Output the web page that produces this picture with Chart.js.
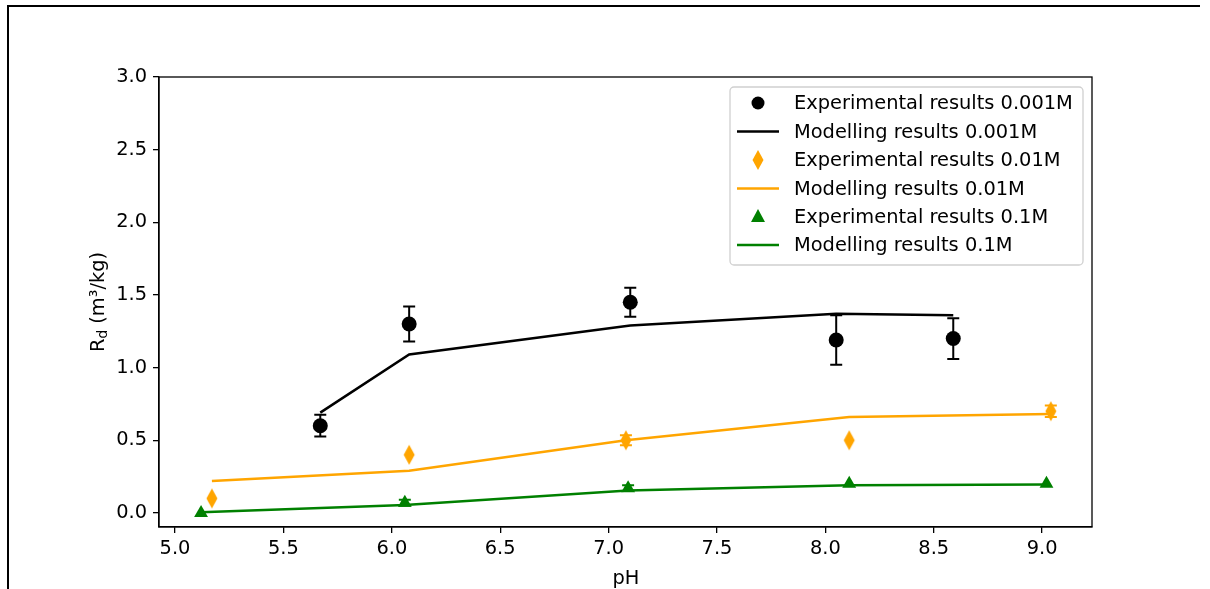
<!DOCTYPE html>
<html>
<head>
<meta charset="utf-8">
<script src="https://cdn.jsdelivr.net/npm/chart.js@4.4.1/dist/chart.umd.min.js"></script>
<style>
  html, body { margin: 0; padding: 0; background: #fff; }
  canvas { display: block; }
</style>
</head>
<body>
<canvas id="c" width="1210" height="589"></canvas>
<script>
// ---- data ----
const xTicks = [5.0, 5.5, 6.0, 6.5, 7.0, 7.5, 8.0, 8.5, 9.0];
const yTicks = [0.0, 0.5, 1.0, 1.5, 2.0, 2.5, 3.0];

const xExp001 = [5.67, 6.08, 7.10, 8.05, 8.59];
const yExp001 = [0.60, 1.30, 1.45, 1.19, 1.20];
const eExp001 = [0.075, 0.12, 0.10, 0.17, 0.14];
const xMod001 = [5.67, 6.08, 7.10, 8.05, 8.59];
const yMod001 = [0.69, 1.09, 1.29, 1.37, 1.36];

const xExp01 = [5.17, 6.08, 7.08, 8.11, 9.04];
const yExp01 = [0.10, 0.40, 0.50, 0.50, 0.70];
const eExp01 = [0.0, 0.0, 0.035, 0.0, 0.04];
const xMod01 = [5.17, 6.08, 7.08, 8.11, 9.04];
const yMod01 = [0.22, 0.29, 0.50, 0.66, 0.68];

const xExp1 = [5.12, 6.06, 7.09, 8.11, 9.02];
const yExp1 = [0.00, 0.07, 0.17, 0.20, 0.20];
const eExp1 = [0.0, 0.02, 0.02, 0.0, 0.0];
const xMod1 = [5.12, 6.06, 7.09, 8.11, 9.02];
const yMod1 = [0.005, 0.055, 0.155, 0.19, 0.195];

const labels = [
  'Experimental results 0.001M', 'Modelling results 0.001M',
  'Experimental results 0.01M', 'Modelling results 0.01M',
  'Experimental results 0.1M', 'Modelling results 0.1M'
];

const BLACK = '#000000', ORANGE = '#ffa500', GREEN = '#008000';
const FONT = '"DejaVu Sans", sans-serif';
const FS = 19.4;

function pts(xs, ys) { return xs.map((x, i) => ({ x: x, y: ys[i] })); }

// thin diamond marker
function thinDiamond(color) {
  const c = document.createElement('canvas');
  c.width = 14; c.height = 22;
  const g = c.getContext('2d');
  g.fillStyle = color;
  g.beginPath();
  g.moveTo(7, 1); g.lineTo(12.5, 11); g.lineTo(7, 21); g.lineTo(1.5, 11);
  g.closePath(); g.fill();
  return c;
}
const diamondImg = thinDiamond(ORANGE);

const errSets = [
  { xs: xExp001, ys: yExp001, es: eExp001, color: BLACK },
  { xs: xExp01, ys: yExp01, es: eExp01, color: ORANGE },
  { xs: xExp1, ys: yExp1, es: eExp1, color: GREEN }
];

const framePlugin = {
  id: 'frame',
  beforeDraw(chart) {
    const g = chart.ctx;
    g.save();
    g.fillStyle = '#fff';
    g.fillRect(0, 0, chart.width, chart.height);
    g.fillStyle = '#000';
    g.fillRect(7, 5, 1193, 2);
    g.fillRect(7, 5, 2, 584);
    g.restore();
  }
};

const errorPlugin = {
  id: 'errbars',
  beforeDatasetsDraw(chart) {
    const g = chart.ctx, xs = chart.scales.x, ys = chart.scales.y;
    g.save();
    g.lineWidth = 2;
    errSets.forEach(s => {
      g.strokeStyle = s.color;
      s.xs.forEach((xv, i) => {
        if (!s.es[i]) return;
        const px = xs.getPixelForValue(xv);
        const top = ys.getPixelForValue(s.ys[i] + s.es[i]);
        const bot = ys.getPixelForValue(s.ys[i] - s.es[i]);
        g.beginPath();
        g.moveTo(px, top); g.lineTo(px, bot);
        g.moveTo(px - 6, top); g.lineTo(px + 6, top);
        g.moveTo(px - 6, bot); g.lineTo(px + 6, bot);
        g.stroke();
      });
    });
    g.restore();
  },
  afterDraw(chart) {
    const g = chart.ctx, a = chart.chartArea;
    g.save();
    // axes box
    g.strokeStyle = '#000';
    g.lineWidth = 1.3;
    g.strokeRect(a.left, a.top, a.right - a.left, a.bottom - a.top);

    // x label
    g.fillStyle = '#000';
    g.font = FS + 'px ' + FONT;
    g.textAlign = 'center';
    g.textBaseline = 'alphabetic';
    g.fillText('pH', 626, 584);

    // y label with subscript
    g.save();
    g.translate(104, 302);
    g.rotate(-Math.PI / 2);
    const big = FS + 'px ' + FONT, small = (FS * 0.7) + 'px ' + FONT;
    g.font = big; const wR = g.measureText('R').width;
    g.font = small; const wd = g.measureText('d').width;
    g.font = big; const wRest = g.measureText(' (m³/kg)').width;
    let x0 = -(wR + wd + wRest) / 2;
    g.textAlign = 'left';
    g.font = big; g.fillText('R', x0, 0); x0 += wR;
    g.font = small; g.fillText('d', x0, 3); x0 += wd;
    g.font = big; g.fillText(' (m³/kg)', x0, 0);
    g.restore();

    // legend
    const lx = 730, ly = 87, lw = 353, lh = 178, r = 4;
    g.beginPath();
    g.moveTo(lx + r, ly);
    g.arcTo(lx + lw, ly, lx + lw, ly + lh, r);
    g.arcTo(lx + lw, ly + lh, lx, ly + lh, r);
    g.arcTo(lx, ly + lh, lx, ly, r);
    g.arcTo(lx, ly, lx + lw, ly, r);
    g.closePath();
    g.fillStyle = 'rgba(255,255,255,0.85)';
    g.fill();
    g.strokeStyle = '#d0d0d0';
    g.lineWidth = 1.3;
    g.stroke();

    const rowsY = [103, 131.5, 160, 188.5, 217, 245];
    const kinds = ['circle', 'line', 'diamond', 'line', 'triangle', 'line'];
    const cols = [BLACK, BLACK, ORANGE, ORANGE, GREEN, GREEN];
    g.font = FS + 'px ' + FONT;
    g.textAlign = 'left';
    g.textBaseline = 'middle';
    rowsY.forEach((yy, i) => {
      const c = cols[i];
      g.fillStyle = c; g.strokeStyle = c;
      if (kinds[i] === 'line') {
        g.lineWidth = 2.5;
        g.beginPath(); g.moveTo(737, yy); g.lineTo(779, yy); g.stroke();
      } else if (kinds[i] === 'circle') {
        g.beginPath(); g.arc(758, yy, 6.5, 0, Math.PI * 2); g.fill();
      } else if (kinds[i] === 'diamond') {
        g.drawImage(diamondImg, 758 - 7, yy - 11);
      } else {
        g.beginPath();
        g.moveTo(758, yy - 8); g.lineTo(765, yy + 5); g.lineTo(751, yy + 5);
        g.closePath(); g.fill();
      }
      g.fillStyle = '#000';
      g.fillText(labels[i], 794, yy + 1);
    });
    g.restore();
  }
};

new Chart(document.getElementById('c'), {
  type: 'line',
  data: {
    datasets: [
      { label: labels[0], data: pts(xExp001, yExp001), showLine: false,
        pointStyle: 'circle', pointRadius: 7.5, pointHoverRadius: 7.5,
        backgroundColor: BLACK, borderColor: BLACK, borderWidth: 0 },
      { label: labels[1], data: pts(xMod001, yMod001), showLine: true,
        borderColor: BLACK, borderWidth: 2.5, pointRadius: 0, tension: 0, fill: false },
      { label: labels[2], data: pts(xExp01, yExp01), showLine: false,
        pointStyle: diamondImg, pointRadius: 10,
        backgroundColor: ORANGE, borderColor: ORANGE },
      { label: labels[3], data: pts(xMod01, yMod01), showLine: true,
        borderColor: ORANGE, borderWidth: 2.5, pointRadius: 0, tension: 0, fill: false },
      { label: labels[4], data: pts(xExp1, yExp1), showLine: false,
        pointStyle: 'triangle', pointRadius: 8, pointHoverRadius: 8,
        backgroundColor: GREEN, borderColor: GREEN, borderWidth: 0 },
      { label: labels[5], data: pts(xMod1, yMod1), showLine: true,
        borderColor: GREEN, borderWidth: 2.5, pointRadius: 0, tension: 0, fill: false }
    ]
  },
  options: {
    responsive: false,
    animation: false,
    events: [],
    layout: { padding: { left: 0, top: 77, right: 118, bottom: 0 } },
    plugins: { legend: { display: false }, tooltip: { enabled: false }, title: { display: false } },
    scales: {
      x: {
        type: 'linear', min: 4.926, max: 9.23,
        afterBuildTicks(axis) { axis.ticks = xTicks.map(v => ({ value: v })); },
        afterFit(axis) { axis.height = 62; },
        grid: { display: true, drawOnChartArea: false, drawTicks: true, tickLength: 6, color: '#000', lineWidth: 1.3 },
        border: { display: true, color: '#000', width: 1.3 },
        ticks: { color: '#000', font: { family: FONT, size: FS }, padding: 4, maxRotation: 0,
                 callback: v => Number(v).toFixed(1) }
      },
      y: {
        type: 'linear', min: -0.097, max: 3.0,
        afterBuildTicks(axis) { axis.ticks = yTicks.map(v => ({ value: v })); },
        afterFit(axis) { axis.width = 159; },
        grid: { display: true, drawOnChartArea: false, drawTicks: true, tickLength: 6, color: '#000', lineWidth: 1.3 },
        border: { display: true, color: '#000', width: 1.3 },
        ticks: { color: '#000', font: { family: FONT, size: FS }, padding: 6,
                 callback: v => Number(v).toFixed(1) }
      }
    }
  },
  plugins: [framePlugin, errorPlugin]
});
</script>
</body>
</html>
